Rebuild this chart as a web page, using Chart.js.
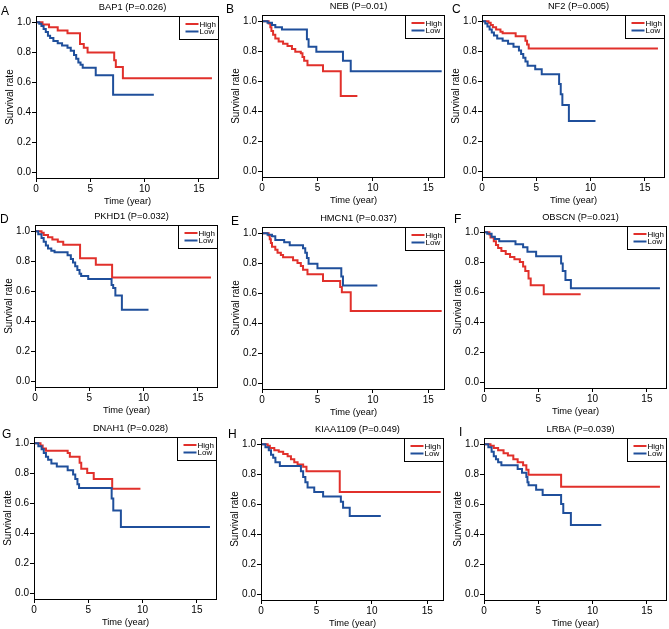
<!DOCTYPE html>
<html>
<head>
<meta charset="utf-8">
<script src="https://cdn.jsdelivr.net/npm/chart.js@4.4.0/dist/chart.umd.min.js"></script>
<style>
  body { margin: 0; width: 669px; height: 629px; overflow: hidden; background: #fff; position: relative;
         font-family: "Liberation Sans", Arial, sans-serif; }
  canvas { position: absolute; }
  .letter { position: absolute; font-size: 12px; line-height: 12px; color: #000; }
</style>
</head>
<body>
<script>
// panel data
const letters = ["A", "B", "C", "D", "E", "F", "G", "H", "I"];
const genes = ["BAP1", "NEB", "NF2", "PKHD1", "HMCN1", "OBSCN", "DNAH1", "KIAA1109", "LRBA"];
const pValues = ["0.026", "0.01", "0.005", "0.032", "0.037", "0.021", "0.028", "0.049", "0.039"];
const groupLabels = ["High", "Low"];
const xTicks = [0, 5, 10, 15];
const yTicks = [0, 0.2, 0.4, 0.6, 0.8, 1.0];

// [time (year), survival rate] at each step
const bap1High = [[0,1],[0.6,0.984],[1.2,0.966],[2.0,0.944],[2.9,0.926],[4.05,0.855],[4.4,0.83],[4.75,0.798],[7.2,0.746],[7.35,0.70],[8.0,0.625],[16.2,0.625]];
const bap1Low = [[0,1],[0.3,0.99],[0.5,0.975],[0.7,0.955],[0.9,0.935],[1.1,0.91],[1.3,0.895],[1.6,0.875],[2.0,0.86],[2.4,0.845],[2.9,0.83],[3.2,0.81],[3.5,0.78],[3.7,0.755],[3.9,0.73],[4.1,0.715],[4.3,0.695],[5.5,0.645],[7.1,0.515],[10.85,0.515]];

const nebHigh = [[0,1],[0.6,0.985],[0.75,0.96],[0.85,0.935],[1.0,0.91],[1.2,0.885],[1.5,0.865],[1.9,0.85],[2.3,0.835],[2.7,0.815],[3.0,0.795],[3.5,0.785],[3.65,0.76],[3.8,0.735],[4.1,0.705],[5.5,0.665],[7.1,0.5],[8.6,0.5]];
const nebLow = [[0,1],[0.5,0.99],[0.9,0.975],[1.2,0.96],[1.8,0.945],[4.05,0.88],[4.2,0.83],[4.9,0.795],[7.3,0.735],[8.0,0.665],[16.2,0.665]];

const nf2High = [[0,1],[0.6,0.99],[0.8,0.975],[1.0,0.96],[1.3,0.945],[1.7,0.93],[1.9,0.92],[3.1,0.9],[4.0,0.87],[4.15,0.845],[4.3,0.818],[16.2,0.818]];
const nf2Low = [[0,1],[0.3,0.985],[0.5,0.965],[0.7,0.945],[0.9,0.925],[1.1,0.905],[1.4,0.885],[1.9,0.87],[2.4,0.85],[2.9,0.83],[3.4,0.805],[3.6,0.78],[3.8,0.755],[4.0,0.73],[4.2,0.703],[4.9,0.679],[5.5,0.645],[7.1,0.58],[7.25,0.512],[7.4,0.44],[8.0,0.333],[10.45,0.333]];

const pkhd1High = [[0,1],[0.6,0.99],[0.8,0.975],[1.2,0.96],[1.6,0.945],[2.1,0.93],[2.6,0.91],[4.15,0.82],[5.6,0.775],[7.1,0.69],[16.2,0.69]];
const pkhd1Low = [[0,1],[0.3,0.98],[0.6,0.955],[0.8,0.93],[1.0,0.905],[1.2,0.885],[1.5,0.87],[1.8,0.86],[3.0,0.84],[3.3,0.815],[3.5,0.79],[3.7,0.765],[3.9,0.74],[4.1,0.715],[4.25,0.70],[4.9,0.68],[7.05,0.64],[7.2,0.62],[7.4,0.57],[8.0,0.475],[10.45,0.475]];

const hmcn1High = [[0,1],[0.6,0.985],[0.7,0.96],[0.8,0.935],[0.9,0.91],[1.2,0.89],[1.4,0.87],[1.7,0.855],[1.9,0.84],[2.8,0.82],[3.2,0.8],[3.5,0.78],[3.7,0.755],[4.1,0.725],[5.5,0.68],[7.05,0.64],[7.2,0.605],[8.0,0.48],[16.2,0.48]];
const hmcn1Low = [[0,1],[0.5,0.99],[0.9,0.98],[1.2,0.955],[2.0,0.94],[2.5,0.92],[3.7,0.9],[3.9,0.87],[4.05,0.835],[4.2,0.795],[5.0,0.765],[7.15,0.71],[7.3,0.65],[10.4,0.65]];

const obscnHigh = [[0,1],[0.5,0.985],[0.6,0.965],[0.9,0.94],[1.1,0.915],[1.3,0.895],[1.6,0.875],[2.0,0.855],[2.4,0.835],[2.8,0.82],[3.3,0.8],[3.6,0.77],[3.8,0.74],[4.1,0.69],[4.3,0.645],[5.5,0.585],[8.9,0.585]];
const obscnLow = [[0,1],[0.3,0.99],[0.7,0.97],[1.0,0.955],[1.4,0.94],[2.9,0.92],[3.6,0.9],[4.0,0.87],[4.8,0.84],[7.1,0.79],[7.25,0.74],[7.5,0.68],[8.0,0.625],[16.2,0.625]];

const dnah1High = [[0,1],[0.6,0.985],[0.8,0.965],[1.1,0.95],[3.1,0.935],[3.3,0.91],[4.2,0.87],[4.35,0.83],[4.9,0.8],[5.5,0.76],[7.2,0.695],[9.8,0.695]];
const dnah1Low = [[0,1],[0.4,0.98],[0.7,0.96],[0.9,0.935],[1.1,0.91],[1.3,0.89],[1.6,0.865],[2.1,0.845],[3.1,0.82],[3.6,0.79],[3.8,0.76],[4.0,0.725],[4.15,0.70],[7.15,0.63],[7.3,0.55],[8.0,0.44],[16.2,0.44]];

const kiaa1109High = [[0,1],[0.6,0.99],[0.8,0.975],[1.2,0.96],[1.6,0.95],[2.0,0.935],[2.4,0.92],[2.7,0.9],[3.0,0.88],[3.3,0.865],[3.8,0.85],[4.1,0.82],[7.1,0.68],[16.2,0.68]];
const kiaa1109Low = [[0,1],[0.4,0.98],[0.7,0.96],[0.9,0.93],[1.1,0.91],[1.3,0.88],[1.7,0.855],[3.6,0.82],[3.8,0.78],[4.0,0.745],[4.2,0.71],[4.8,0.68],[5.6,0.65],[7.2,0.615],[7.4,0.575],[8.0,0.52],[10.8,0.52]];

const lrbaHigh = [[0,1],[0.6,0.99],[0.9,0.975],[1.3,0.96],[1.8,0.94],[2.2,0.925],[2.7,0.9],[3.1,0.88],[3.6,0.86],[3.9,0.83],[4.1,0.795],[7.1,0.715],[16.2,0.715]];
const lrbaLow = [[0,1],[0.4,0.98],[0.7,0.95],[0.9,0.92],[1.1,0.9],[1.3,0.88],[1.6,0.86],[3.1,0.835],[3.5,0.81],[3.9,0.78],[4.0,0.745],[4.1,0.725],[4.8,0.695],[5.4,0.66],[7.1,0.6],[7.3,0.54],[8.0,0.46],[10.8,0.46]];

const highCurves = [bap1High, nebHigh, nf2High, pkhd1High, hmcn1High, obscnHigh, dnah1High, kiaa1109High, lrbaHigh];
const lowCurves = [bap1Low, nebLow, nf2Low, pkhd1Low, hmcn1Low, obscnLow, dnah1Low, kiaa1109Low, lrbaLow];

// page layout
const canvasLeft = [0, 226, 446, -1, 226, 448, -2, 225, 448];
const canvasTop = [1, 0, 0, 210, 212, 211, 422, 423, 423];
const letterLeft = [1, 226, 452, 0, 231, 454, 2, 228, 459];
const letterTop = [5, 3, 3, 213, 215, 213, 428, 428, 426];
const colXMax = [16.85, 16.5, 16.85];

const red = "#e1302b";
const blue = "#1f4f9b";
const fontFamily = "'Liberation Sans', Arial, sans-serif";

// the panel titles sit a little right of the plot centre in the original
const titleNudge = {
  id: "titleNudge",
  afterLayout(chart) {
    if (chart.titleBlock) {
      chart.titleBlock.left += 5;
      chart.titleBlock.right += 5;
    }
  }
};

const frameAndLegend = {
  id: "frameAndLegend",
  afterDatasetsDraw(chart) {
    const ctx = chart.ctx;
    const a = chart.chartArea;
    const l = Math.round(a.left) + 0.5, t = Math.round(a.top) + 0.5;
    const r = Math.round(a.right) - 0.5, b = Math.round(a.bottom) + 0.5;
    ctx.save();
    ctx.strokeStyle = "#000";
    ctx.lineWidth = 1;
    ctx.strokeRect(l, t, r - l, b - t);

    // legend box in the top right corner
    const lw = 39, lh = 23;
    ctx.fillStyle = "#fff";
    ctx.fillRect(r - lw, t, lw, lh);
    ctx.strokeRect(r - lw, t, lw, lh);
    ctx.font = "8px " + fontFamily;
    ctx.textBaseline = "middle";
    chart.data.datasets.forEach((ds, i) => {
      const y = t + 7.5 + i * 7.5;
      ctx.strokeStyle = ds.borderColor;
      ctx.lineWidth = 2;
      ctx.beginPath();
      ctx.moveTo(r - 33, y);
      ctx.lineTo(r - 20, y);
      ctx.stroke();
      ctx.fillStyle = "#000";
      ctx.fillText(ds.label, r - 19, y + 0.5);
    });
    ctx.restore();
  }
};

function toPoints(curve) {
  return curve.map(p => ({ x: p[0], y: p[1] }));
}

genes.forEach((gene, i) => {
  const canvas = document.createElement("canvas");
  canvas.width = 223;
  canvas.height = 211;
  canvas.style.left = canvasLeft[i] + "px";
  canvas.style.top = canvasTop[i] + "px";
  document.body.appendChild(canvas);

  const letter = document.createElement("div");
  letter.className = "letter";
  letter.textContent = letters[i];
  letter.style.left = letterLeft[i] + "px";
  letter.style.top = letterTop[i] + "px";
  document.body.appendChild(letter);

  new Chart(canvas, {
    type: "line",
    data: {
      datasets: [
        { label: groupLabels[0], data: toPoints(highCurves[i]), borderColor: red, borderWidth: 2,
          pointRadius: 0, stepped: "before", fill: false, order: 1 },
        { label: groupLabels[1], data: toPoints(lowCurves[i]), borderColor: blue, borderWidth: 2,
          pointRadius: 0, stepped: "before", fill: false, order: 0 }
      ]
    },
    options: {
      responsive: false,
      animation: false,
      devicePixelRatio: 1,
      layout: { padding: { left: 0, right: 4, top: 0, bottom: 0 } },
      plugins: {
        legend: { display: false },
        tooltip: { enabled: false },
        title: {
          display: true,
          text: gene + " (P=" + pValues[i] + ")",
          color: "#000",
          fullSize: false,
          font: { family: fontFamily, size: 9.3, weight: "normal" },
          padding: { top: 1, bottom: 3 }
        }
      },
      scales: {
        x: {
          type: "linear",
          min: 0,
          max: colXMax[i % 3],
          afterBuildTicks: s => { s.ticks = xTicks.map(v => ({ value: v })); },
          afterFit: s => { s.height = 34; },
          border: { display: false },
          grid: { display: true, drawOnChartArea: false, drawTicks: true, tickLength: 4, color: "#000" },
          ticks: { color: "#000", font: { family: fontFamily, size: 10 }, padding: 1, autoSkip: false, maxRotation: 0 },
          title: { display: true, text: "Time (year)", color: "#000",
                   font: { family: fontFamily, size: 9.3 }, padding: { top: 0, bottom: 5 } }
        },
        y: {
          min: -0.04,
          max: 1.04,
          afterBuildTicks: s => { s.ticks = yTicks.map(v => ({ value: v })); },
          afterFit: s => { s.width = 36; },
          border: { display: false },
          grid: { display: true, drawOnChartArea: false, drawTicks: true, tickLength: 4, color: "#000" },
          ticks: { color: "#000", font: { family: fontFamily, size: 10 }, padding: 1,
                   callback: v => Number(v).toFixed(1) },
          title: { display: true, text: "Survival rate", color: "#000",
                   font: { family: fontFamily, size: 10 }, padding: { top: 4, bottom: 0 } }
        }
      }
    },
    plugins: [titleNudge, frameAndLegend]
  });
});
</script>
</body>
</html>
